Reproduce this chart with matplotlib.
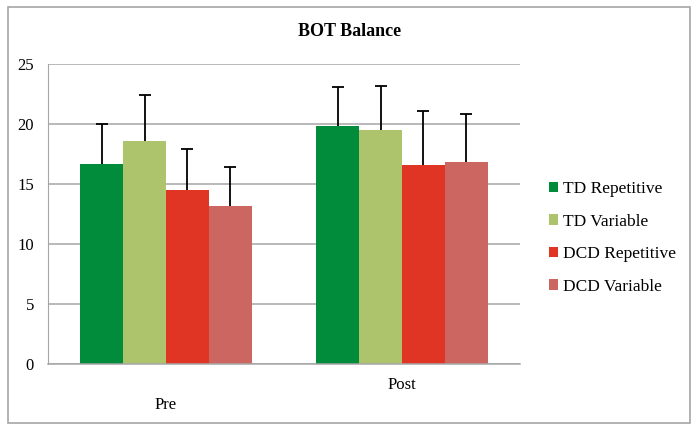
import matplotlib.pyplot as plt
import matplotlib.transforms as mtransforms
import numpy as np

groups = ["Pre", "Post"]
series = ["TD Repetitive", "TD Variable", "DCD Repetitive", "DCD Variable"]
means = [
    [16.7, 19.8],
    [18.6, 19.5],
    [14.5, 16.6],
    [13.2, 16.8],
]
errs = [
    [3.3, 3.25],
    [3.8, 3.7],
    [3.4, 4.5],
    [3.2, 4.0],
]
colors = ["#008C3A", "#ADC46D", "#E03424", "#CC6660"]

plt.rcParams['font.family'] = ['Liberation Serif', 'DejaVu Serif']

fig = plt.figure(figsize=(6.97, 4.29), dpi=100)
ax = fig.add_axes([48/697, 1-364/429, (520-48)/697, 300/429])

x = np.arange(len(groups))
w = 0.182
for i, name in enumerate(series):
    pos = x + (i - 1.5) * w
    m = np.array(means[i])
    e = np.array(errs[i])
    ax.bar(pos, m, width=w, color=colors[i], label=name, zorder=2)
    # upper error bar only, with cap at the top
    ax.vlines(pos, m, m + e, color='black', linewidth=1.3, zorder=3)
    ax.plot(pos, m + e, ls='none', marker='_', ms=9, mew=1.3, color='black', zorder=3)

ax.set_xlim(-0.5, 1.5)
ax.set_ylim(0, 25)
ax.set_yticks([0, 5, 10, 15, 20, 25])
ax.grid(axis='y', color='#A6A6A6', linewidth=1.1, zorder=0)
ax.set_axisbelow(True)
for s in ['top', 'right']:
    ax.spines[s].set_visible(False)
ax.spines['left'].set_color('#A6A6A6')
ax.spines['bottom'].set_color('#A6A6A6')
ax.spines['bottom'].set_linewidth(1.1)
ax.tick_params(axis='y', length=0, pad=10, labelsize=12)
ax.set_xticks([])

trans = mtransforms.blended_transform_factory(ax.transData, ax.transAxes)
ax.text(x[0], -0.137, groups[0], transform=trans, ha='center', va='center', fontsize=12)
ax.text(x[1], -0.07, groups[1], transform=trans, ha='center', va='center', fontsize=12)

fig.text(350/697, 1-31/429, "BOT Balance", ha='center', va='center',
         fontsize=13, fontweight='bold')

ax.legend(loc='center left', bbox_to_anchor=(533/697, 1-238/429), bbox_transform=fig.transFigure,
          frameon=False, fontsize=12.5, handlelength=0.55, handleheight=0.55,
          handletextpad=0.3, labelspacing=0.95)

fig.patches.append(plt.Rectangle((8/697, 6/429), 682/697, 416/429, transform=fig.transFigure,
                                 fill=False, edgecolor='#A6A6A6', linewidth=1.2))

fig.savefig("out.png", dpi=100)
